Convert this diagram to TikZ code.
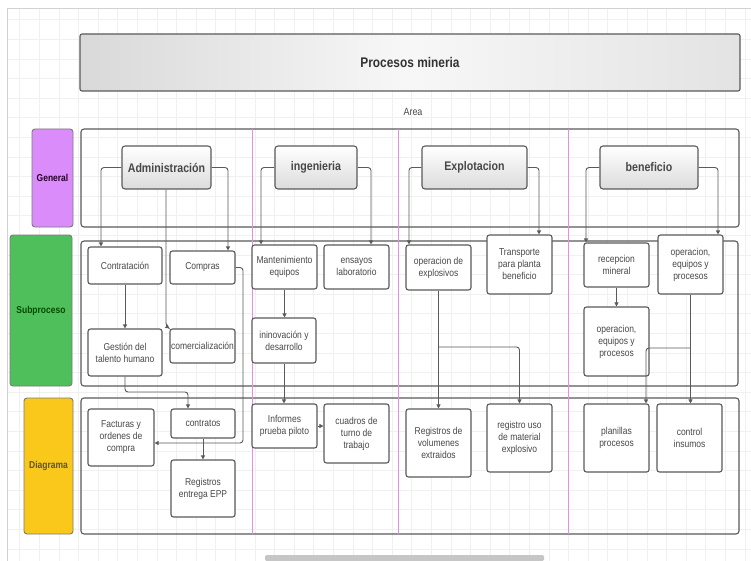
\documentclass[tikz,border=0pt]{standalone}
\usepackage{fontspec}
\setmainfont{Liberation Sans}[FakeStretch=0.85]
\usetikzlibrary{arrows.meta}
\definecolor{lineg}{HTML}{5A5A5A}
\definecolor{lanepink}{HTML}{E58FE0}
\definecolor{genpurple}{HTML}{DA8DFA}
\definecolor{subgreen}{HTML}{4FBF5B}
\definecolor{diayellow}{HTML}{F9C81A}
\definecolor{txt}{HTML}{484848}
\tikzset{
  box/.style={draw=lineg, line width=1.1pt, rounded corners=2.5pt, fill=white, align=center,
    inner sep=1pt, font=\fontsize{10}{12}\selectfont, text=txt},
  head/.style={draw=lineg, line width=1.1pt, rounded corners=3pt, top color=white, bottom color=gray!28,
    font=\fontsize{12.5}{14}\selectfont\bfseries, text=txt, minimum height=43pt},
  lane/.style={draw=lineg, line width=1.1pt, rounded corners=3pt},
  lab/.style={draw=lineg!80, line width=0.9pt, rounded corners=3pt, font=\fontsize{10}{12}\selectfont\bfseries},
  arr/.style={draw=lineg, line width=0.9pt, rounded corners=3pt, -{Triangle[length=4pt,width=4pt]}},
  divider/.style={draw=lanepink, line width=1pt},
}
\begin{document}
\begin{tikzpicture}[x=1pt,y=-1pt]
\useasboundingbox (0,0) rectangle (751,561);
% canvas and grid
\fill[white] (0,0) rectangle (751,561);
\draw[gray!12, line width=0.5pt] (8,9) grid[step=19.6pt] (751,561);
\draw[gray!35, line width=0.8pt] (7,8) -- (751,8);
\draw[gray!35, line width=0.8pt] (7,8) -- (7,561);
% title
\node[draw=lineg, line width=1.1pt, rounded corners=2pt, left color=gray!30, right color=gray!22, middle color=gray!6,
  minimum width=660pt, minimum height=57pt, font=\fontsize{14}{16}\selectfont\bfseries, text=black!80]
  (title) at (410,62.5) {Procesos mineria};
\node[font=\fontsize{10.5}{12}\selectfont, text=txt] (area) at (413,112) {Area};
% containers
\node[lane, minimum width=658pt, minimum height=98pt] (cgen) at (410,178) {};
\node[lane, minimum width=657pt, minimum height=145pt] (csub) at (409.5,313.5) {};
\node[lane, minimum width=658pt, minimum height=136pt] (cdia) at (410,466) {};
% lane dividers
\draw[divider] (252,129.5) -- (252,533.5);
\draw[divider] (398,129.5) -- (398,533.5);
\draw[divider] (568,129.5) -- (568,533.5);
% row labels
\node[lab, fill=genpurple, minimum width=41pt, minimum height=98pt, text=black!70!violet] (lgen) at (52.5,178) {General};
\node[lab, fill=subgreen, minimum width=62pt, minimum height=151pt, text=black!70!green] (lsub) at (41,310.5) {Subproceso};
\node[lab, fill=diayellow, minimum width=49pt, minimum height=136pt, text=black!75!yellow] (ldia) at (48.5,466) {Diagrama};
% headers
\node[head, minimum width=89pt] (adm) at (166.5,167.5) {Administración};
\node[head, minimum width=82pt] (ing) at (316,167.5) {ingenieria};
\node[head, minimum width=105pt] (expl) at (474.5,167.5) {Explotacion};
\node[head, minimum width=98pt] (benef) at (649,167.5) {beneficio};
% subprocess boxes
\node[box, minimum width=74pt, minimum height=37pt] (contr) at (125,265.5) {Contratación};
\node[box, minimum width=65pt, minimum height=33pt] (compras) at (202.5,267.5) {Compras};
\node[box, minimum width=74pt, minimum height=47pt] (gestion) at (125,352.5) {Gestión del\\talento humano};
\node[box, minimum width=65pt, minimum height=34pt] (comerc) at (202.5,346) {comercialización};
\node[box, minimum width=65pt, minimum height=44pt] (mant) at (284.5,267) {Mantenimiento\\equipos};
\node[box, minimum width=65pt, minimum height=44pt] (ensayos) at (356.5,267) {ensayos\\laboratorio};
\node[box, minimum width=64pt, minimum height=45pt] (inno) at (284,340.5) {ininovación y\\desarrollo};
\node[box, minimum width=65pt, minimum height=45pt] (opexp) at (438.5,267.5) {operacion de\\explosivos};
\node[box, minimum width=65pt, minimum height=59pt] (transp) at (519.5,264.5) {Transporte\\para planta\\beneficio};
\node[box, minimum width=65pt, minimum height=44pt] (recep) at (616.5,265) {recepcion\\mineral};
\node[box, minimum width=65pt, minimum height=59pt] (opeq1) at (690.5,264.5) {operacion,\\equipos y\\procesos};
\node[box, minimum width=65pt, minimum height=69pt] (opeq2) at (616.5,341.5) {operacion,\\equipos y\\procesos};
% diagram boxes
\node[box, minimum width=66pt, minimum height=57pt] (fact) at (121,437.5) {Facturas y\\ordenes de\\compra};
\node[box, minimum width=64pt, minimum height=29pt] (contratos) at (203,423.5) {contratos};
\node[box, minimum width=64pt, minimum height=57pt] (regepp) at (203,488.5) {Registros\\entrega EPP};
\node[box, minimum width=65pt, minimum height=44pt] (informes) at (284.5,426) {Informes\\prueba piloto};
\node[box, minimum width=65pt, minimum height=59pt] (cuadros) at (356.5,433.5) {cuadros de\\turno de\\trabajo};
\node[box, minimum width=65pt, minimum height=68pt] (regvol) at (438.5,443) {Registros de\\volumenes\\extraidos};
\node[box, minimum width=65pt, minimum height=68pt] (reguso) at (519.5,438) {registro uso\\de material\\explosivo};
\node[box, minimum width=65pt, minimum height=68pt] (planillas) at (616.5,438) {planillas\\procesos};
\node[box, minimum width=65pt, minimum height=68pt] (control) at (689.5,438) {control\\insumos};
% connectors from headers
\draw[arr] (adm.west) -| (101,0 |- contr.north);
\draw[arr] (adm.east) -| (228,0 |- compras.north);
\draw[arr] (adm.south -| 166,0) -- (166,326) -- (comerc.north west);
\draw[arr] (ing.west) -| (261,0 |- mant.north);
\draw[arr] (ing.east) -| (371,0 |- ensayos.north);
\draw[arr] (expl.west) -| (409,0 |- opexp.north);
\draw[arr] (expl.east) -| (539,0 |- transp.north);
\draw[arr] (benef.west) -| (586,0 |- recep.north);
\draw[arr] (benef.east) -| (718,0 |- opeq1.north);
% subprocess connectors
\draw[arr] (contr.south) -- (gestion.north);
\draw[arr] (mant.south) -- (mant.south |- inno.north);
\draw[arr] (recep.south) -- (opeq2.north);
\draw[arr] (compras.east) -| (243,443) -- ([yshift=-5.5pt]fact.east);
\draw[arr] (gestion.south) |- (188,392) -- (188,0 |- contratos.north);
\draw[arr] (contratos.south) -- (regepp.north);
\draw[arr] (inno.south) -- (inno.south |- informes.north);
\draw[arr] (informes.east) -- (cuadros.west |- informes.east);
\draw[arr] (opexp.south) -- (regvol.north);
\draw[arr] (opexp.south |- 0,347) -| (reguso.north);
\draw[arr] (opeq1.south) -- (opeq1.south |- control.north);
\draw[arr] (opeq1.south |- 0,348) -| (646,0 |- planillas.north);
% scrollbar
\fill[gray!45, rounded corners=1.5pt] (265,555) rectangle (544,561);
\end{tikzpicture}
\end{document}
